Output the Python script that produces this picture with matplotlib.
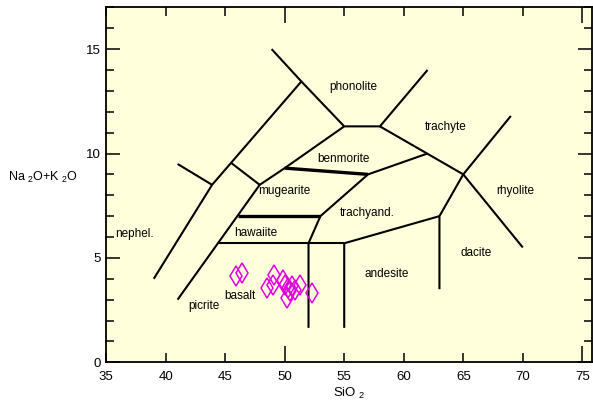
import matplotlib
matplotlib.use("Agg")
import matplotlib.pyplot as plt
from matplotlib.ticker import FixedLocator, NullFormatter

plt.rcParams['font.family'] = ['Liberation Sans Narrow', 'Liberation Sans', 'DejaVu Sans']
plt.rcParams['mathtext.default'] = 'regular'

# field boundaries (SiO2, Na2O+K2O)
thin_lines = [
    [(39, 4), (43.9, 8.5), (51.4, 13.45)],
    [(41, 9.5), (43.9, 8.5)],
    [(48.9, 15), (51.4, 13.45), (55, 11.3), (58, 11.3), (62, 14)],
    [(41, 3), (47.9, 8.5), (50, 9.3), (55, 11.3)],
    [(45.5, 9.55), (47.9, 8.5)],
    [(58, 11.3), (65, 9), (70, 5.5)],
    [(65, 9), (69, 11.8)],
    [(65, 9), (63, 7), (63, 3.5)],
    [(63, 7), (55, 5.7), (55, 1.65)],
    [(44.45, 5.7), (55, 5.7)],
    [(52, 1.65), (52, 5.7), (53, 7), (57, 9), (62, 10)],
]
thick_lines = [
    [(46.1, 7), (53, 7)],
    [(50, 9.3), (57, 9)],
]

field_names = ["phonolite", "benmorite", "trachyte", "rhyolite", "mugearite",
               "trachyand.", "hawaiite", "nephel.", "andesite", "dacite",
               "basalt", "picrite"]
field_pos = [(55.8, 13.2), (54.9, 9.75), (63.5, 11.25), (69.4, 8.2), (50.0, 8.22),
             (56.9, 7.16), (47.6, 6.19), (37.4, 6.15), (58.6, 4.23), (66.1, 5.23),
             (46.2, 3.18), (43.2, 2.7)]

# samples
sio2 = [45.91, 46.39, 49.13, 48.49, 48.99, 49.88, 50.03, 50.30, 50.59, 50.87,
        51.29, 50.17, 52.27, 50.45]
alk = [4.12, 4.28, 4.20, 3.56, 3.72, 3.96, 3.72, 3.56, 3.65, 3.48,
       3.72, 3.08, 3.32, 3.41]

fig = plt.figure(figsize=(5.93, 4.08), dpi=100)
ax = fig.add_axes([0.179, 0.112, 0.819, 0.870])
ax.set_facecolor('#ffffdc')

for line in thin_lines:
    xs, ys = zip(*line)
    ax.plot(xs, ys, color='black', lw=1.5, solid_capstyle='butt')
for line in thick_lines:
    xs, ys = zip(*line)
    ax.plot(xs, ys, color='black', lw=2.4, solid_capstyle='butt')

for name, (x, y) in zip(field_names, field_pos):
    ax.text(x, y, name, fontsize=8.5, ha='center', va='center')

ax.plot(sio2, alk, 'd', ms=9.7, mfc='none', mec='#e000e0', mew=1.1, ls='none')

ax.set_xlim(35, 75.8)
ax.set_ylim(0, 17)

ax.xaxis.set_major_locator(FixedLocator([50, 75]))
ax.xaxis.set_minor_locator(FixedLocator([35, 40, 45, 55, 60, 65, 70]))
ax.set_xticklabels(['35', '40', '45', '55', '60', '65', '70'], minor=True)
ax.set_xticklabels(['50', '75'])
ax.yaxis.set_major_locator(FixedLocator([0, 5, 10, 15]))
ax.yaxis.set_minor_locator(FixedLocator(range(0, 18)))
ax.yaxis.set_minor_formatter(NullFormatter())

ax.tick_params(axis='x', which='major', direction='in', length=11.5, width=1.1,
               top=True, labelsize=9.5, pad=6)
ax.tick_params(axis='x', which='minor', direction='in', length=6.5, width=1.1,
               top=True, labelsize=9.5, pad=6)
ax.tick_params(axis='y', which='major', direction='in', length=10, width=1.1,
               right=True, labelsize=9.5, pad=4)
ax.tick_params(axis='y', which='minor', direction='in', length=5.8, width=1.1,
               right=True)
for s in ax.spines.values():
    s.set_linewidth(1.3)

ax.set_xlabel(r'SiO $_2$', fontsize=9.5, labelpad=2)
ax.text(-0.13, 0.52, r'Na $_2$O+K $_2$O', transform=ax.transAxes, fontsize=9,
        ha='center', va='center')

fig.savefig('out.png', dpi=100)
